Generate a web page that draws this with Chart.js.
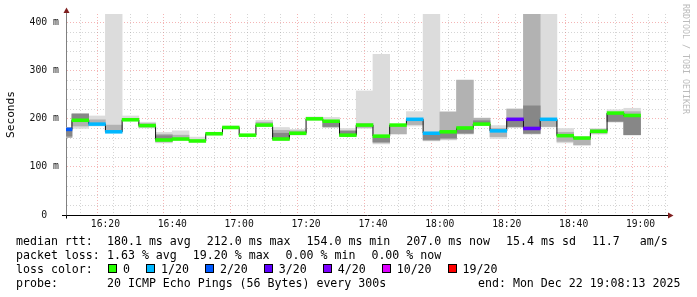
<!DOCTYPE html>
<html>
<head>
<meta charset="utf-8">
<script src="https://cdn.jsdelivr.net/npm/chart.js@4.4.1/dist/chart.umd.min.js"></script>
<style>
  body { margin: 0; background: #fff; }
  #wrap { position: relative; width: 697px; height: 297px; overflow: hidden; }
  .row { position: absolute; left: 16px; white-space: pre; font: 11.6px "DejaVu Sans Mono", monospace; line-height: 14px; color: #000; }
  .row .k { display: inline-block; width: 91px; }
  .row .c { margin-right: 16px; }
  .row .sq { display: inline-block; width: 9px; height: 9px; border: 1px solid #000; box-sizing: border-box; margin-right: 6px; }
  #credit { position: absolute; left: 681px; top: 4px; writing-mode: vertical-rl; font: 8.3px "DejaVu Sans Mono", monospace; color: #bbb; white-space: pre; }
</style>
</head>
<body>
<div id="wrap">
  <canvas id="chart" width="697" height="297"></canvas>
  <div id="credit">RRDTOOL / TOBI OETIKER</div>
  <div class="row" style="top:234px"><span class="k">median rtt:</span><span class="c">180.1 ms avg</span><span class="c">212.0 ms max</span><span class="c">154.0 ms min</span><span class="c">207.0 ms now</span><span class="c">15.4 ms sd</span><span class="c" style="margin-right:20px">11.7</span><span>am/s</span></div>
  <div class="row" style="top:248px"><span class="k">packet loss:</span><span class="c">1.63 % avg</span><span class="c">19.20 % max</span><span class="c">0.00 % min</span><span>0.00 % now</span></div>
  <div class="row" style="top:262px" id="lossrow"><span class="k">loss color:</span></div>
  <div class="row" style="top:276px"><span class="k">probe:</span><span>20 ICMP Echo Pings (56 Bytes) every 300s</span><span style="position:absolute;left:462px">end: Mon Dec 22 19:08:13 2025</span></div>
</div>
<script>
// minutes after 16:00, centre of each 5 minute step (16:05-16:10 ... 18:55-19:00)
const steps = [7.5, 12.5, 17.5, 22.5, 27.5, 32.5, 37.5, 42.5, 47.5, 52.5, 57.5, 62.5, 67.5, 72.5, 77.5, 82.5, 87.5, 92.5,
  97.5, 102.5, 107.5, 112.5, 117.5, 122.5, 127.5, 132.5, 137.5, 142.5, 147.5, 152.5, 157.5, 162.5, 167.5, 172.5, 177.5];

// median rtt in ms
const median = [178, 197, 189, 173, 198, 186, 156, 158, 154, 169, 182, 166, 187, 158, 170, 200, 195, 166,
  187, 164, 187, 199, 170, 173, 181, 189, 175, 199, 180, 199, 165, 160, 174, 212, 207];

// lost pings out of 20
const loss = [2, 0, 1, 1, 0, 0, 0, 0, 0, 0, 0, 0, 0, 0, 0, 0, 0, 0,
  0, 0, 0, 1, 1, 0, 0, 0, 1, 3, 3, 1, 0, 0, 0, 0, 0];

// smoke: outer spread, middle spread, dense core (ms)
const smokeOuter = [[161, 182], [180, 211], [185, 206], [172, 500], [196, 206], [181, 193], [150, 172], [155, 175], [151, 162],
  [166, 172], [180, 185], [164, 168], [184, 197], [155, 182], [166, 178], [197, 204], [182, 203], [163, 180],
  [180, 258], [148, 334], [168, 188], [185, 215], [154, 500], [156, 215], [168, 281], [186, 202], [159, 186],
  [182, 221], [168, 500], [183, 500], [150, 180], [145, 163], [168, 180], [193, 219], [166, 222]];
const smokeMid = [[161, 182], [185, 210], [188, 198], [174, 187], null, [183, 190], [152, 168], [158, 166], null,
  null, null, null, [186, 193], [157, 176], [168, 175], null, [183, 196], [166, 176],
  [182, 190], [150, 165], [169, 185], [188, 198], [155, 172], [158, 214], [170, 280], [187, 201], [163, 180],
  [183, 220], [169, 500], [184, 197], [153, 172], [146, 160], [170, 178], [194, 212], [167, 215]];
const smokeCore = [[164, 179], [199, 210], null, null, null, null, [155, 165], null, null,
  null, null, null, null, [158, 170], null, null, [184, 192], [168, 174],
  null, [152, 162], null, null, [157, 168], [160, 172], [170, 181], [188, 196], null,
  [184, 198], [170, 227], null, null, null, null, [195, 210], [167, 205]];

const lossLegend = ["0", "1/20", "2/20", "3/20", "4/20", "10/20", "19/20"];
const lossLevels = [0, 1, 2, 3, 4, 10, 19];
const lossColors = ["#26ff00", "#00b8ff", "#0059ff", "#5e00ff", "#7e00ff", "#dd00ff", "#ff0000"];

const xMin = 8 + 13 / 60;   // 16:08:13
const xMax = 188 + 13 / 60; // 19:08:13

function lossColor(n) {
    let c = lossColors[0];
    lossLevels.forEach((lvl, i) => { if (n >= lvl) c = lossColors[i]; });
    return c;
}

function hhmm(v) {
    const h = 16 + Math.floor(v / 60);
    const m = v % 60;
    return h + ":" + String(m).padStart(2, "0");
}

// loss colour legend
const lossRow = document.getElementById("lossrow");
lossLegend.forEach((lbl, i) => {
    const sq = document.createElement("span");
    sq.className = "sq";
    sq.style.background = lossColors[i];
    if (i === 0) sq.style.marginLeft = "1px";
    const t = document.createElement("span");
    t.className = "c";
    t.textContent = lbl;
    lossRow.appendChild(sq);
    lossRow.appendChild(t);
});

const band = (arr) => steps.map((x, i) => ({ x: x, y: arr[i] }));

const MAJOR = "rgba(230, 90, 90, 0.45)";
const MINOR = "rgba(150, 150, 150, 0.4)";

const arrows = {
    id: "arrows",
    afterDraw(chart) {
        const { ctx, chartArea } = chart;
        const x0 = chartArea.left + 0.5;
        const y0 = chartArea.bottom + 0.5;
        ctx.save();
        ctx.strokeStyle = "#808080";
        ctx.beginPath();
        ctx.moveTo(x0, chartArea.top);
        ctx.lineTo(x0, 11);
        ctx.stroke();
        ctx.strokeStyle = "#000";
        ctx.beginPath();
        ctx.moveTo(62, y0);
        ctx.lineTo(x0, y0);
        ctx.moveTo(x0, y0);
        ctx.lineTo(x0, y0 + 3);
        ctx.stroke();
        ctx.fillStyle = "#7f1f1f";
        ctx.beginPath();
        ctx.moveTo(x0, 7.5);
        ctx.lineTo(x0 - 3, 13);
        ctx.lineTo(x0 + 3, 13);
        ctx.closePath();
        ctx.fill();
        ctx.beginPath();
        ctx.moveTo(chartArea.right + 5.5, y0);
        ctx.lineTo(chartArea.right, y0 - 3);
        ctx.lineTo(chartArea.right, y0 + 3);
        ctx.closePath();
        ctx.fill();
        ctx.restore();
    }
};

const barOpts = { type: "bar", grouped: false, barPercentage: 1, categoryPercentage: 1, borderWidth: 0 };

new Chart(document.getElementById("chart").getContext("2d"), {
    type: "bar",
    data: {
        datasets: [
            { ...barOpts, data: band(smokeOuter), backgroundColor: "#dcdcdc", order: 5 },
            { ...barOpts, data: band(smokeMid), backgroundColor: "#b2b2b2", order: 4 },
            { ...barOpts, data: band(smokeCore), backgroundColor: "#878787", order: 3 },
            {
                type: "line", data: steps.map((x, i) => ({ x: x, y: median[i] })), stepped: "middle",
                borderColor: "#111", borderWidth: 1, pointRadius: 0, fill: false, order: 2
            },
            {
                ...barOpts, data: steps.map((x, i) => ({ x: x, y: [median[i] - 3, median[i] + 3] })),
                backgroundColor: (c) => lossColor(loss[c.dataIndex]), order: 1
            }
        ]
    },
    options: {
        responsive: false,
        animation: false,
        events: [],
        layout: { padding: { top: 14, right: 29, left: 0, bottom: 0 } },
        plugins: { legend: { display: false }, tooltip: { enabled: false } },
        scales: {
            x: {
                type: "linear",
                min: xMin,
                max: xMax,
                offset: false,
                z: 1,
                afterBuildTicks: (s) => {
                    const t = [];
                    for (let v = 10; v <= 185; v += 5) t.push({ value: v });
                    s.ticks = t;
                },
                afterFit: (s) => { s.height = 82; },
                grid: {
                    drawTicks: false,
                    color: (c) => (c.tick && c.tick.value % 20 === 0 ? MAJOR : MINOR)
                },
                border: { display: true, color: "#000", dash: [1, 2] },
                ticks: {
                    autoSkip: false,
                    maxRotation: 0,
                    padding: 4,
                    color: "#111",
                    font: { family: "DejaVu Sans Mono", size: 9.7 },
                    callback: (v) => (v % 20 === 0 ? hhmm(v) : "")
                }
            },
            y: {
                min: 0,
                max: 418,
                z: 1,
                afterBuildTicks: (s) => {
                    const t = [];
                    for (let v = 0; v <= 400; v += 20) t.push({ value: v });
                    s.ticks = t;
                },
                afterFit: (s) => { s.width = 66; },
                grid: {
                    drawTicks: false,
                    color: (c) => {
                        if (!c.tick || c.tick.value === 0) return "rgba(0,0,0,0)";
                        return c.tick.value % 100 === 0 ? MAJOR : MINOR;
                    }
                },
                border: { display: true, color: "#808080", dash: [1, 2] },
                title: {
                    display: true,
                    text: "Seconds",
                    color: "#000",
                    padding: { top: 4, bottom: 0 },
                    font: { family: "DejaVu Sans Mono", size: 11.2, weight: "normal" }
                },
                ticks: {
                    autoSkip: false,
                    padding: 7,
                    color: "#111",
                    font: { family: "DejaVu Sans Mono", size: 9.8 },
                    callback: (v) => {
                        if (v % 100 !== 0) return "";
                        return v === 0 ? "0  " : v + " m";
                    }
                }
            }
        }
    },
    plugins: [arrows]
});
</script>
</body>
</html>
